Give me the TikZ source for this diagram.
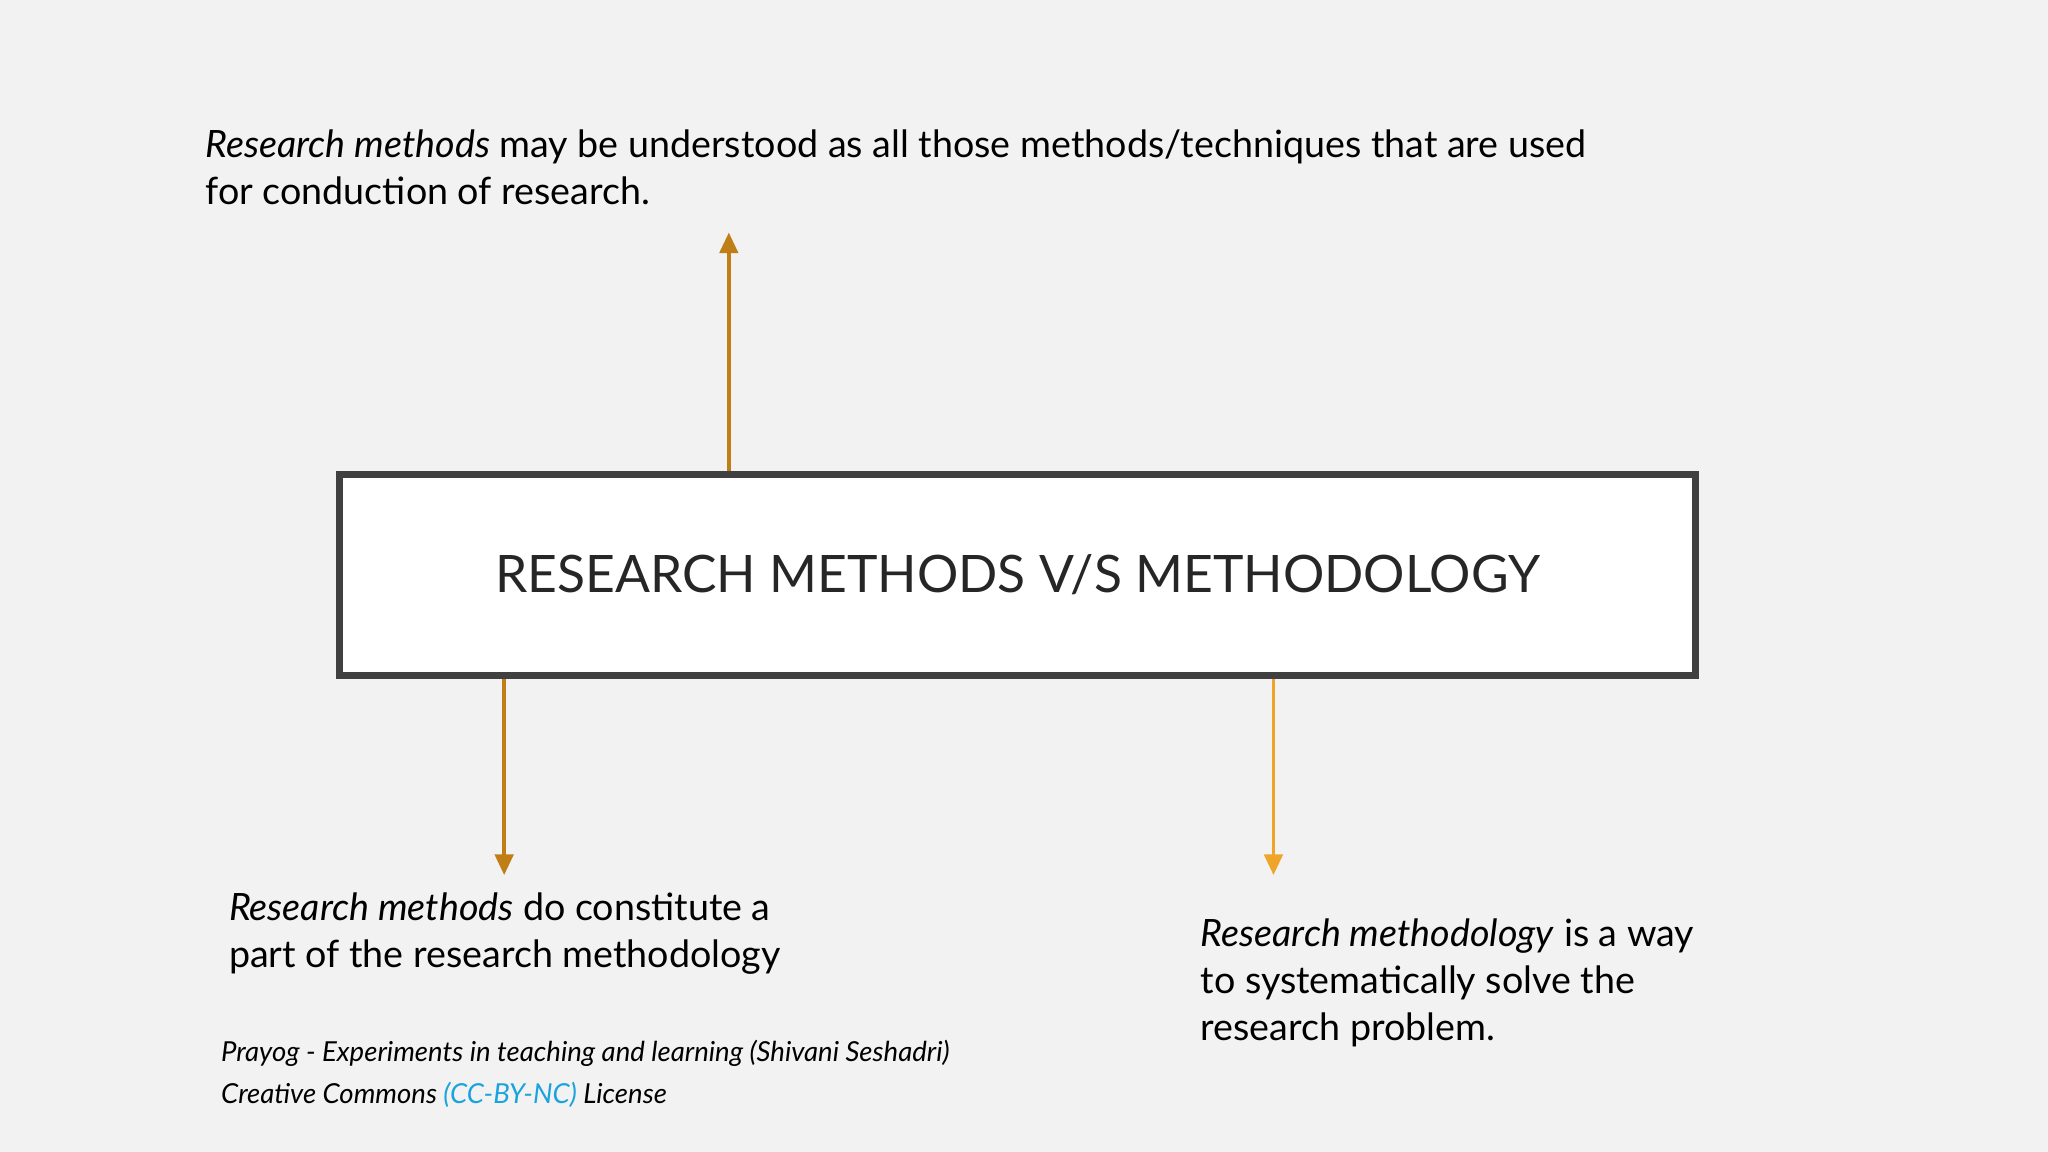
\documentclass[tikz,border=0pt]{standalone}
\usepackage{fontspec}
\setmainfont{Lato}
\usetikzlibrary{arrows.meta}
\definecolor{bg}{HTML}{F2F2F2}
\definecolor{dark}{HTML}{404040}
\definecolor{arrA}{HTML}{C07F16}
\definecolor{arrB}{HTML}{F0A52A}
\definecolor{link}{HTML}{1AA3DD}
\tikzset{
  body/.style={anchor=north west,align=left,inner sep=0pt,font=\fontsize{16.4}{20.5}\selectfont},
  foot/.style={anchor=north west,align=left,inner sep=0pt,font=\fontsize{12}{18.5}\selectfont\itshape},
  conn/.style={line width=1.6pt,-{Triangle[length=9pt,width=8pt]}}
}
\begin{document}
\begin{tikzpicture}[x=0.02cm,y=-0.02cm]
\fill[bg] (0,0) rectangle (1568,882);
\useasboundingbox (0,0) rectangle (1568,882);
\node[draw=dark,fill=white,line width=3pt,minimum width=20.76cm,minimum height=3.08cm,
  font=\fontsize{22.5}{28}\selectfont,text=black!85] (box) at (779,440) {RESEARCH METHODS V/S METHODOLOGY};
\coordinate (t1) at (558,178);
\coordinate (b1) at (386,670);
\coordinate (b2) at (975,670);
\node[body] (top) at (157,99) {\textit{Research methods} may be understood as all those methods/techniques that are used\\for conduction of research.};
\node[body] (left) at (175,683) {\textit{Research methods} do constitute a\\part of the research methodology};
\node[body] (right) at (919,703) {\textit{Research methodology} is a way\\to systematically solve the\\research problem.};
\node[foot] (footer) at (169,796) {Prayog - Experiments in teaching and learning (Shivani Seshadri)\\Creative Commons {\color{link}(CC-BY-NC)} License};
\draw[conn,arrA] (box.north -| t1) -- (t1);
\draw[conn,arrA] (box.south -| b1) -- (b1);
\draw[conn,arrB] (box.south -| b2) -- (b2);
\end{tikzpicture}
\end{document}
